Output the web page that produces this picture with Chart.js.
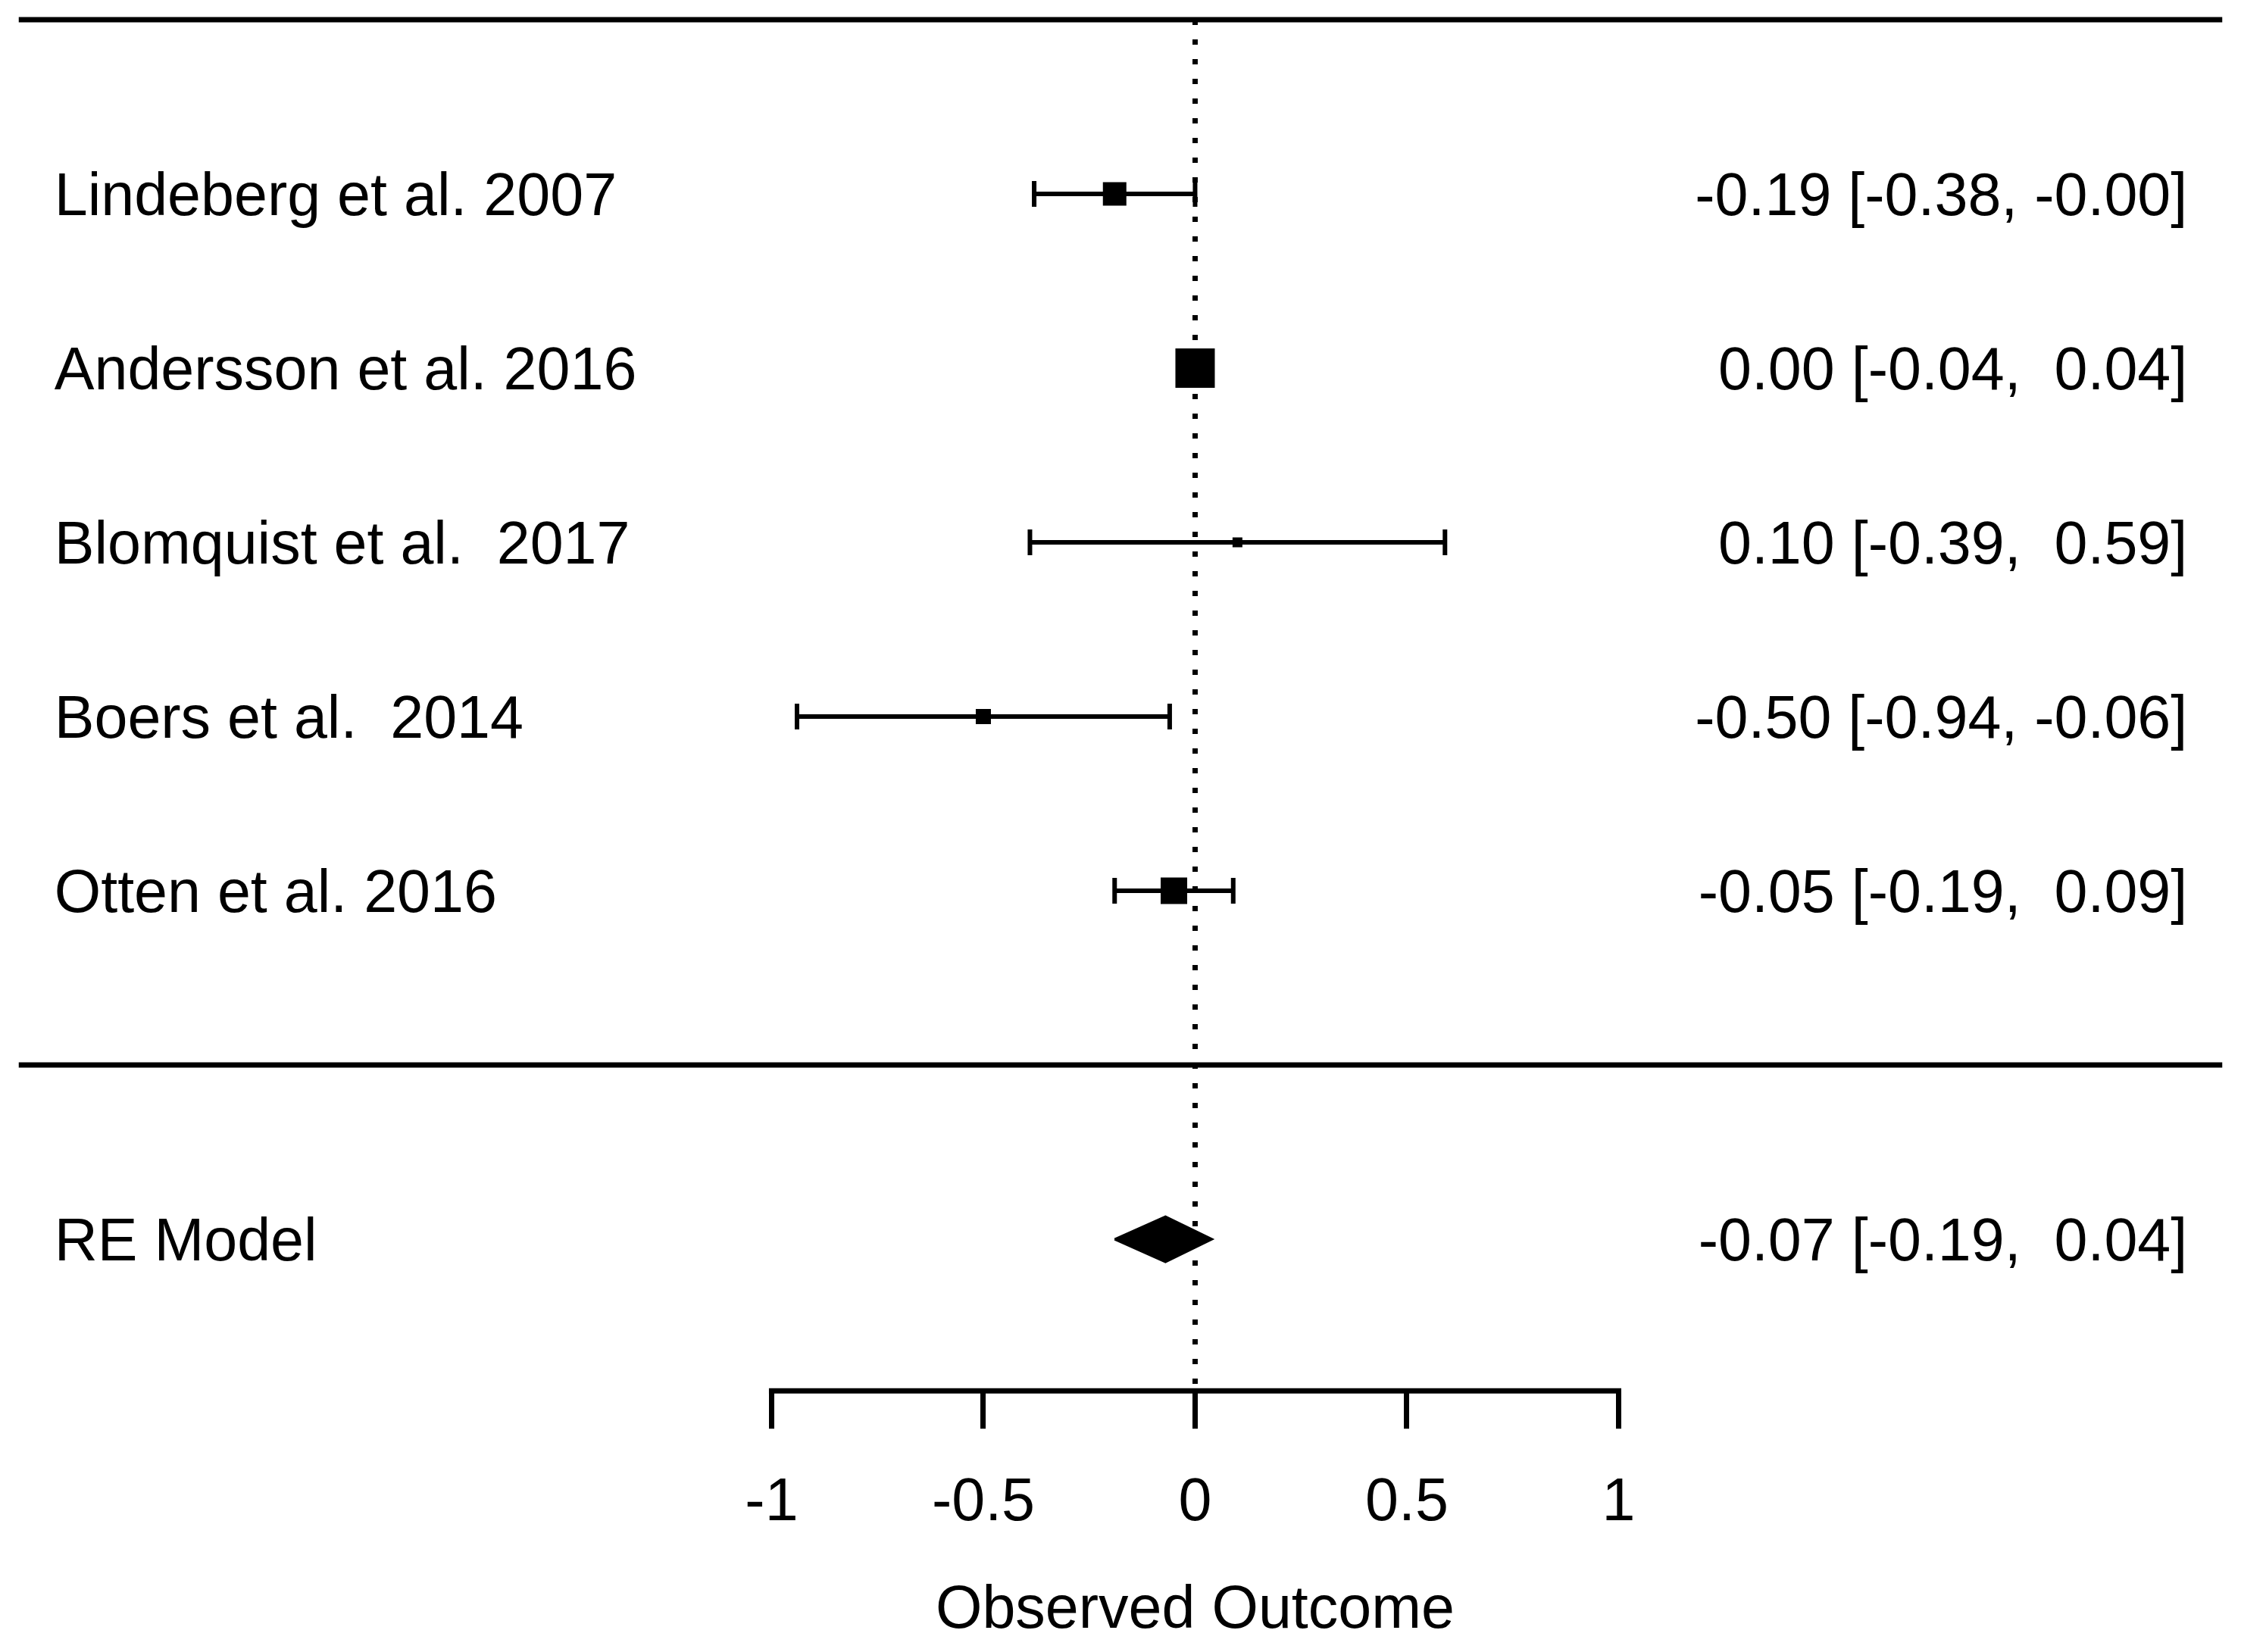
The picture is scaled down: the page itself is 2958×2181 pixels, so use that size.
<!DOCTYPE html>
<html>
<head>
<meta charset="utf-8">
<script src="https://cdn.jsdelivr.net/npm/chart.js@4.4.1/dist/chart.umd.min.js"></script>
<style>
  html, body { margin: 0; padding: 0; background: #fff; }
  canvas { display: block; }
</style>
</head>
<body>
<canvas id="forest" width="2958" height="2181"></canvas>
<script>
// studies, effect sizes and 95% CI
const studies = ['Lindeberg et al. 2007', 'Andersson et al. 2016', 'Blomquist et al.  2017', 'Boers et al.  2014', 'Otten et al. 2016'];
const estimate = [-0.19, 0.00, 0.10, -0.50, -0.05];
const ciLower = [-0.38, -0.04, -0.39, -0.94, -0.19];
const ciUpper = [-0.00, 0.04, 0.59, -0.06, 0.09];

// pooled random-effects model
const summaryLabel = 'RE Model';
const summaryEstimate = -0.07;
const summaryLower = -0.19;
const summaryUpper = 0.04;

// x axis
const xTicks = [-1, -0.5, 0, 0.5, 1];
const xTickLabels = ['-1', '-0.5', '0', '0.5', '1'];
const xTitle = 'Observed Outcome';

// ---- styling ----
const FONT_FAMILY = "'Liberation Sans', Arial, sans-serif";
const FONT_SIZE = 79;
const boxSide = [31, 52, 13, 20, 35];   // square marker sizes (px), by weight
const LW = 7;

const xMin = -2.7776, xMax = 2.4253;     // axis range so the rules span the page
const nStudies = studies.length;
const rowOf = i => nStudies - i;         // metafor style rows k..1
const summaryRow = -1;
const yMax = nStudies + 1, yMin = -1.87;
const diamondHalf = 0.13;

// R style number: keep sign of -0, pad positives in the CI
function fmt(v) {
  const neg = v < 0 || Object.is(v, -0);
  return (neg ? '-' : '') + Math.abs(v).toFixed(2);
}
function fmtCI(v) {
  const s = fmt(v);
  return s[0] === '-' ? s : ' ' + s;
}
function ciText(est, lo, hi) {
  return fmt(est) + ' [' + fmtCI(lo) + ', ' + fmtCI(hi) + ']';
}

Chart.defaults.color = '#000';
Chart.defaults.font.family = FONT_FAMILY;

const datasets = [];

// point estimates (squares)
datasets.push({
  data: studies.map((s, i) => ({ x: estimate[i], y: rowOf(i) })),
  showLine: false,
  pointStyle: 'rect',
  pointRadius: boxSide.map(s => s / Math.SQRT2),
  pointBackgroundColor: '#000',
  pointBorderWidth: 0,
  order: 0
});

// confidence interval whiskers with end caps
studies.forEach((s, i) => {
  datasets.push({
    data: [{ x: ciLower[i], y: rowOf(i) }, { x: ciUpper[i], y: rowOf(i) }],
    borderColor: '#000',
    borderWidth: 6,
    pointStyle: 'line',
    pointRotation: 90,
    pointRadius: 17,
    pointBorderWidth: 6,
    pointBorderColor: '#000',
    order: 1
  });
});

// summary diamond
datasets.push({
  data: [
    { x: summaryLower, y: summaryRow },
    { x: summaryEstimate, y: summaryRow + diamondHalf },
    { x: summaryUpper, y: summaryRow },
    { x: summaryEstimate, y: summaryRow - diamondHalf },
    { x: summaryLower, y: summaryRow }
  ],
  borderColor: '#000',
  borderWidth: 3,
  backgroundColor: '#000',
  fill: 'shape',
  pointRadius: 0,
  order: 1
});

// dotted reference line at 0
datasets.push({
  data: [{ x: 0, y: yMax }, { x: 0, y: yMin }],
  borderColor: '#000',
  borderWidth: 7,
  borderDash: [7, 19],
  pointRadius: 0,
  order: 3
});

// top rule and separator above the summary
[yMax, 0].forEach(v => {
  datasets.push({
    data: [{ x: xMin, y: v }, { x: xMax, y: v }],
    borderColor: '#000',
    borderWidth: LW,
    pointRadius: 0,
    clip: false,
    order: 2
  });
});

// axis line from first to last tick
datasets.push({
  data: [{ x: xTicks[0], y: yMin }, { x: xTicks[xTicks.length - 1], y: yMin }],
  borderColor: '#000',
  borderWidth: LW,
  borderCapStyle: 'square',
  pointRadius: 0,
  clip: false,
  order: 2
});

// study labels on the left, estimates on the right, axis title under 0
const forestText = {
  id: 'forestText',
  afterDraw(chart) {
    const { ctx, chartArea, scales: { x, y } } = chart;
    ctx.save();
    ctx.font = FONT_SIZE + 'px ' + FONT_FAMILY;
    ctx.fillStyle = '#000';
    ctx.textBaseline = 'alphabetic';
    const shift = FONT_SIZE * 0.358;
    const leftX = chartArea.left + 47;
    const rightX = chartArea.right - 46;

    studies.forEach((s, i) => {
      const py = y.getPixelForValue(rowOf(i)) + shift;
      ctx.textAlign = 'left';
      ctx.fillText(s, leftX, py);
      ctx.textAlign = 'right';
      ctx.fillText(ciText(estimate[i], ciLower[i], ciUpper[i]), rightX, py);
    });

    const sy = y.getPixelForValue(summaryRow) + shift;
    ctx.textAlign = 'left';
    ctx.fillText(summaryLabel, leftX, sy);
    ctx.textAlign = 'right';
    ctx.fillText(ciText(summaryEstimate, summaryLower, summaryUpper), rightX, sy);

    // axis title, centred on 0 like metafor
    ctx.textAlign = 'center';
    ctx.textBaseline = 'middle';
    ctx.fillText(xTitle, x.getPixelForValue(0), chart.height - 54);
    ctx.restore();
  }
};

new Chart(document.getElementById('forest'), {
  type: 'line',
  data: { datasets: datasets },
  options: {
    responsive: false,
    devicePixelRatio: 1,
    animation: false,
    layout: { padding: { left: 19, right: 15, top: 26, bottom: 96 } },
    elements: { line: { tension: 0 } },
    plugins: {
      legend: { display: false },
      tooltip: { enabled: false }
    },
    scales: {
      x: {
        type: 'linear',
        min: xMin,
        max: xMax,
        afterBuildTicks: scale => {
          scale.ticks = xTicks.map(v => ({ value: v }));
        },
        border: { display: false },
        grid: {
          display: true,
          drawOnChartArea: false,
          drawTicks: true,
          tickLength: 50,
          lineWidth: LW,
          color: '#000'
        },
        ticks: {
          autoSkip: false,
          maxRotation: 0,
          padding: 52,
          font: { size: FONT_SIZE, lineHeight: 1.2 },
          callback: (v, i) => xTickLabels[i]
        },
        title: { display: false }
      },
      y: {
        type: 'linear',
        display: false,
        min: yMin,
        max: yMax
      }
    }
  },
  plugins: [forestText]
});
</script>
</body>
</html>
